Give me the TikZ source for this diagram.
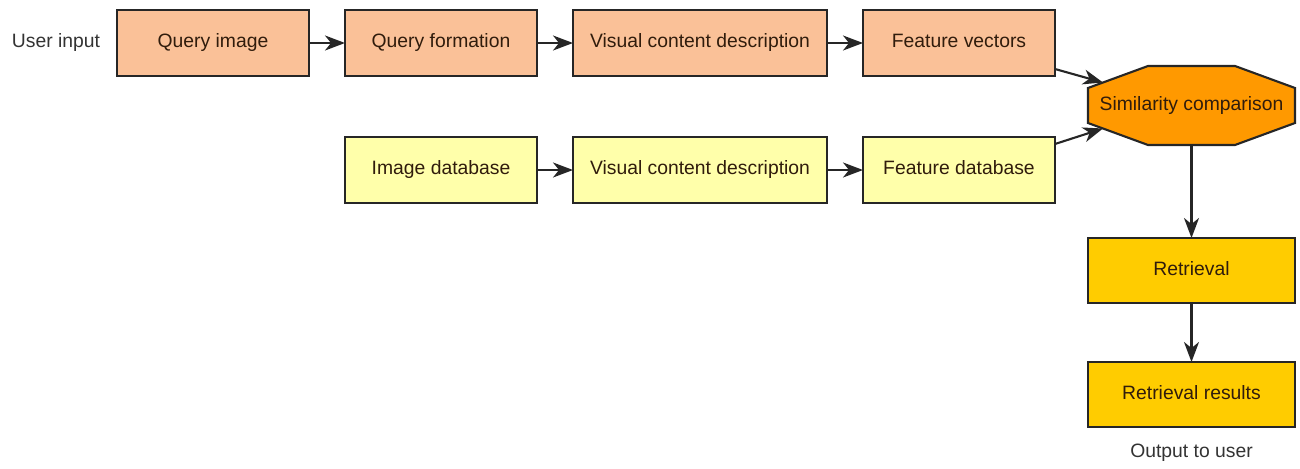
\documentclass[tikz,border=0pt]{standalone}
\usepackage{fontspec}
\setmainfont{Liberation Sans}
\usetikzlibrary{arrows.meta,positioning,backgrounds}
\definecolor{qpeach}{RGB}{250,193,152}
\definecolor{dbyellow}{RGB}{255,255,170}
\definecolor{simorange}{RGB}{255,153,0}
\definecolor{retgold}{RGB}{255,204,0}
\definecolor{boxtext}{RGB}{48,28,12}
\tikzset{blk/.style={draw=black!85, line width=1.2pt, minimum height=1.32cm,
  minimum width=3.84cm, inner sep=0pt, outer sep=0pt, text=boxtext,
  text height=8pt, text depth=2.5pt},
  qblk/.style={blk, fill=qpeach},
  dblk/.style={blk, fill=dbyellow},
  rblk/.style={blk, fill=retgold, minimum width=4.14cm, minimum height=1.3cm},
  arr/.style={-{Stealth[length=4mm,width=3mm,inset=1.2mm]}, line width=1.2pt, draw=black!85}}

\begin{document}
\begin{tikzpicture}[font=\fontsize{11}{13}\selectfont]
  \useasboundingbox (0,0) rectangle (26,-9.38);
  % query row
  \node[text=black!80] (usr) at (1.12,-0.86) {User input};
  \node[qblk] (qimg) at (4.26,-0.86) {Query image};
  \node[qblk, right=0.72cm of qimg] (qform) {Query formation};
  \node[qblk, right=0.72cm of qform, minimum width=5.08cm] (qvcd) {Visual content description};
  \node[qblk, right=0.72cm of qvcd] (fvec) {Feature vectors};
  % database row
  \node[dblk, below=1.22cm of qform] (idb) {Image database};
  \node[dblk, right=0.72cm of idb, minimum width=5.08cm] (dvcd) {Visual content description};
  \node[dblk, right=0.72cm of dvcd] (fdb) {Feature database};
  % octagon, drawn behind its text
  \node[minimum width=4.14cm, minimum height=1.58cm, inner sep=0pt, outer sep=0pt,
    text=boxtext] (sim) at (23.83,-2.11) {Similarity comparison};
  \begin{scope}[on background layer]
    \filldraw[fill=simorange, draw=black!85, line width=1.2pt]
      ([xshift=1.2cm]sim.north west) -- ([xshift=-1.2cm]sim.north east)
      -- ([yshift=-0.44cm]sim.north east) -- ([yshift=0.44cm]sim.south east)
      -- ([xshift=-1.2cm]sim.south east) -- ([xshift=1.2cm]sim.south west)
      -- ([yshift=0.44cm]sim.south west) -- ([yshift=-0.44cm]sim.north west) -- cycle;
  \end{scope}
  \coordinate (simtop) at ([xshift=0.3cm,yshift=-0.33cm]sim.north west);
  \coordinate (simbot) at ([xshift=0.3cm,yshift=0.33cm]sim.south west);
  % output column
  \node[rblk] (ret) at (23.83,-5.41) {Retrieval};
  \node[rblk, below=1.18cm of ret] (res) {Retrieval results};
  \node[text=black!80, below=0.22cm of res] (out) {Output to user};

  \draw[arr] (qimg) -- (qform);
  \draw[arr] (qform) -- (qvcd);
  \draw[arr] (qvcd) -- (fvec);
  \draw[arr] (idb) -- (dvcd);
  \draw[arr] (dvcd) -- (fdb);
  \draw[arr] ([yshift=0.14cm]fvec.south east) -- (simtop);
  \draw[arr] ([yshift=-0.14cm]fdb.north east) -- (simbot);
  \draw[arr] (sim) -- (ret);
  \draw[arr] (ret) -- (res);
\end{tikzpicture}
\end{document}
